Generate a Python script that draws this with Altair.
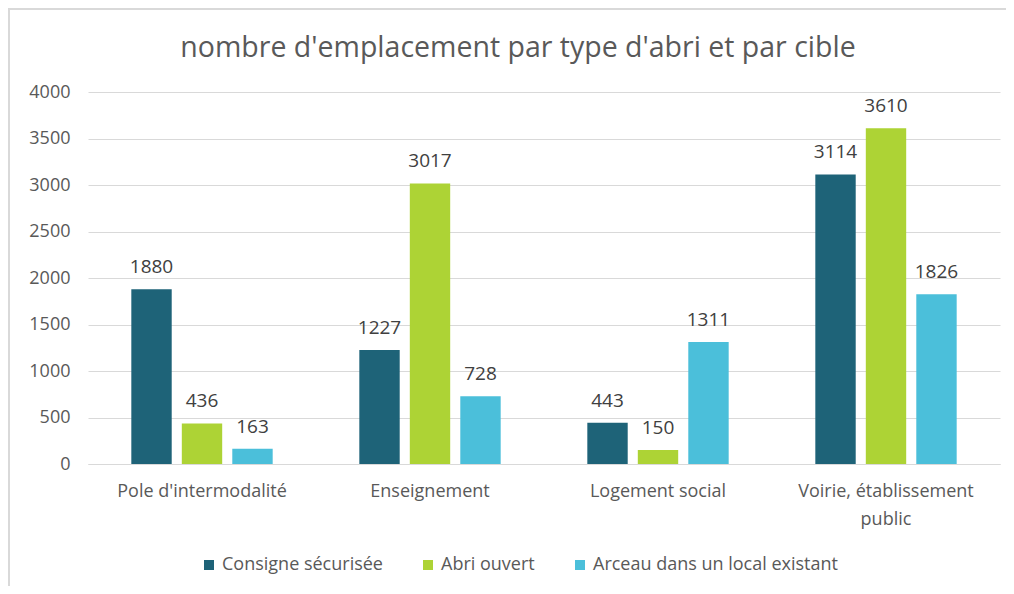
import altair as alt
import pandas as pd

categories = ["Pole d'intermodalité", "Enseignement", "Logement social", "Voirie, établissement public"]
series = ["Consigne sécurisée", "Abri ouvert", "Arceau dans un local existant"]
consigne = [1880, 1227, 443, 3114]
abri = [436, 3017, 150, 3610]
arceau = [163, 728, 1311, 1826]
colors = ["#1E6378", "#ADD335", "#4BBFDA"]

rows = []
for i, c in enumerate(categories):
    for s, vals in zip(series, [consigne, abri, arceau]):
        rows.append({"cible": c, "type": s, "valeur": vals[i]})
df = pd.DataFrame(rows)

FONT = "Open Sans"

x = alt.X("cible:N", sort=categories, title=None,
          scale=alt.Scale(paddingInner=0.38, paddingOuter=0.19),
          axis=alt.Axis(labelAngle=0, labelFontSize=18, labelColor="#595959", labelFont=FONT,
                        ticks=False, domainColor="#d9d9d9", labelPadding=18, labelLimit=300,
                        labelLineHeight=28,
                        labelExpr="datum.label == 'Voirie, établissement public' ? ['Voirie, établissement', 'public'] : datum.label"))
xo = alt.XOffset("type:N", sort=series, scale=alt.Scale(paddingInner=0.2, paddingOuter=0))
y = alt.Y("valeur:Q", title=None,
          scale=alt.Scale(domain=[0, 4000]),
          axis=alt.Axis(values=list(range(0, 4001, 500)), format="d", labelFontSize=18,
                        labelColor="#595959", labelFont=FONT, ticks=False, domain=False,
                        gridColor="#d9d9d9", labelPadding=18))
color = alt.Color("type:N", sort=series, scale=alt.Scale(domain=series, range=colors),
                  legend=alt.Legend(title=None, orient="none", direction="horizontal",
                                    legendX=112, legendY=464, symbolType="square",
                                    symbolSize=100, symbolStrokeWidth=0, labelFontSize=18,
                                    labelColor="#595959", labelFont=FONT, columnPadding=36,
                                    labelOffset=4, labelLimit=400))

bars = alt.Chart(df).mark_bar().encode(x=x, xOffset=xo, y=y, color=color)
labels = alt.Chart(df).mark_text(dy=-22, fontSize=19, color="#404040", font=FONT).encode(
    x=x, xOffset=xo, y=y, text="valeur:Q")

border = alt.Chart(df).mark_rect(fill=None, stroke="#d9d9d9", strokeWidth=1.5, clip=False).encode(
    x=alt.value(-79), x2=alt.value(1020), y=alt.value(-83), y2=alt.value(530))

chart = alt.layer(border, bars, labels).properties(
    width=912, height=372,
    title=alt.TitleParams("nombre d'emplacement par type d'abri et par cible", fontSize=28.5,
                          font=FONT, fontWeight="normal", color="#595959", anchor="middle",
                          offset=-54, dx=-26),
    padding={"left": 80, "top": 84, "right": 6, "bottom": 122},
    autosize=alt.AutoSizeParams(type="none"),
).configure_view(stroke=None)

chart.save("out.html", embed_options={"renderer": "svg", "actions": False})
